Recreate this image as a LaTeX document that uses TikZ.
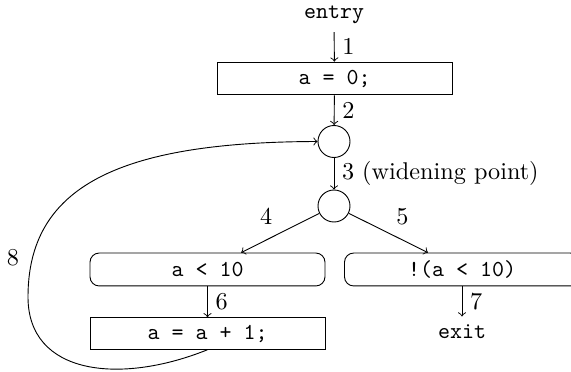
\documentclass[tikz,border=0pt]{standalone}
\begin{document}
\begin{tikzpicture}[x=0.4375pt, y=-0.4375pt,
  stmt/.style={draw, rectangle, minimum width=102.8pt, minimum height=14.4pt, inner sep=0pt, font=\ttfamily},
  condbox/.style={stmt, rounded corners=4pt},
  joinpt/.style={draw, circle, minimum size=14pt, inner sep=0pt},
  term/.style={font=\ttfamily},
  lbl/.style={font=\fontsize{10.6pt}{13pt}\selectfont}]
\path[use as bounding box, clip] (0,0) rectangle (571,372);
\node[term] (entry) at (334,15) {entry};
\node[stmt] (init) at (334.5,78.5) {a = 0;};
\node[joinpt] (w1) at (334,141.5) {};
\node[joinpt] (w2) at (334,206) {};
\node[condbox] (lt) at (207.5,269.5) {a < 10};
\node[condbox] (ge) at (462,269.5) {!(a < 10)};
\node[stmt, minimum height=13.8pt] (inc) at (207.5,333.5) {a = a + 1;};
\node[term] (exit) at (462,331.5) {exit};
\coordinate (loopL) at (28,297);

\draw[->] (entry) -- node[right, lbl] {1} (init);
\draw[->] (init) -- node[right, lbl] {2} (w1);
\draw[->] (w1) -- node[right, lbl] {3 (widening point)} (w2);
\draw[->] (w2) -- node[above left, lbl] {4} (lt);
\draw[->] (w2) -- node[above right, lbl] {5} (ge);
\draw[->] (lt) -- node[right, lbl] {6} (inc);
\draw[->] (ge.south) -- node[right, lbl] {7} (exit);
\draw[->] (inc.south) .. controls (120,385) and (28,375) .. (loopL)
  .. controls (28,187) and (118,142) .. (w1.west);
\node[lbl] (l8) at (13,258) {8};
\end{tikzpicture}
\end{document}
